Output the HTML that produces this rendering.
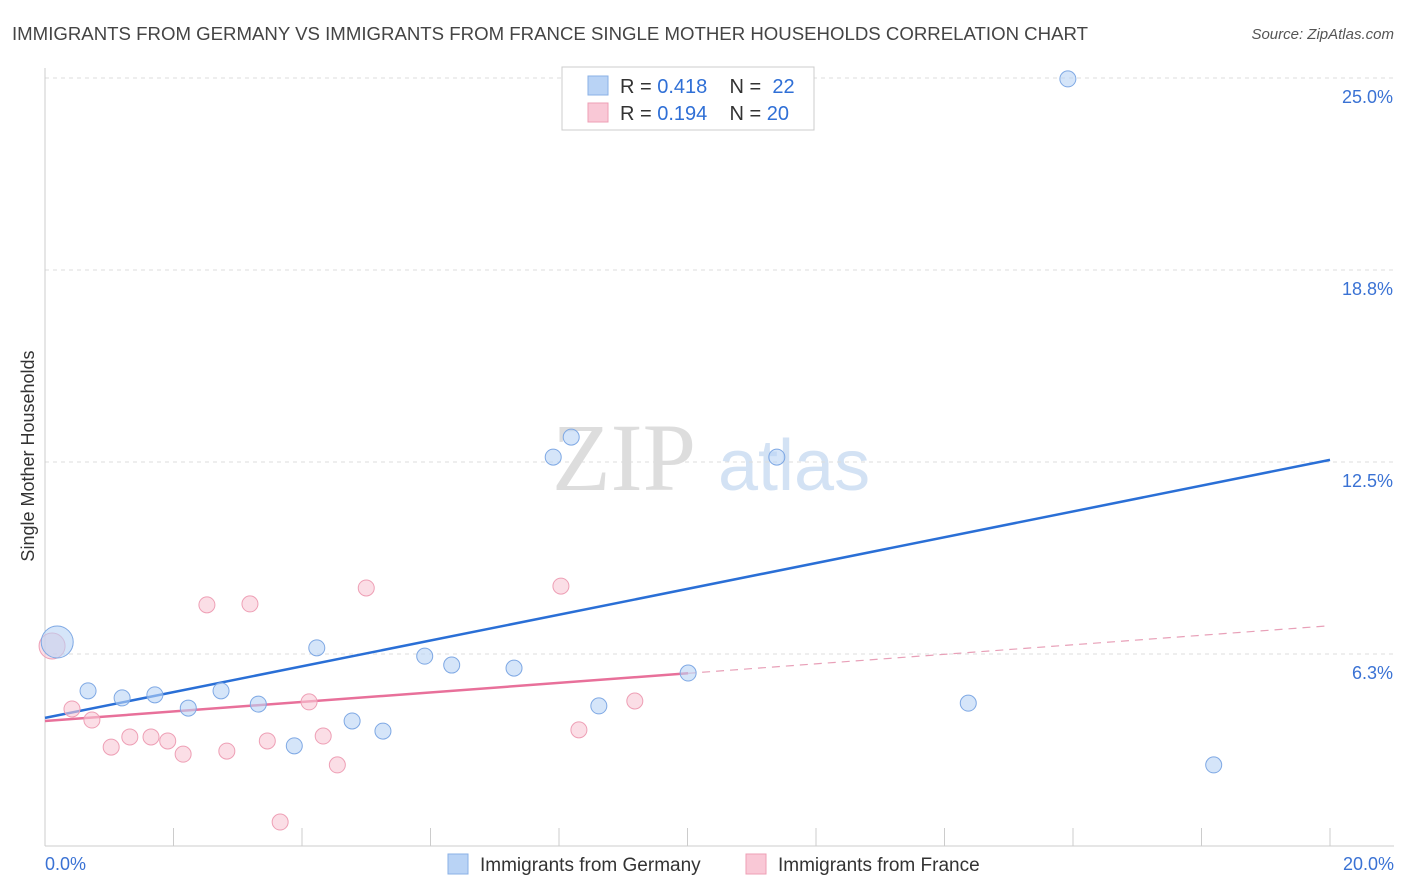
<!DOCTYPE html>
<html><head><meta charset="utf-8"><style>
body{margin:0;background:#fff;font-family:"Liberation Sans",sans-serif}
svg{display:block}
</style></head><body>
<svg id="chart" width="1406" height="892">
<text x="12" y="40" font-size="18" fill="#444" textLength="1076" lengthAdjust="spacingAndGlyphs">IMMIGRANTS FROM GERMANY VS IMMIGRANTS FROM FRANCE SINGLE MOTHER HOUSEHOLDS CORRELATION CHART</text>
<text x="1394" y="39" font-size="15" fill="#555" font-style="italic" text-anchor="end">Source: ZipAtlas.com</text>
<text x="34" y="456" font-size="18" fill="#333" text-anchor="middle" transform="rotate(-90 34 456)">Single Mother Households</text>
<g>
<text x="552" y="490" font-size="96" fill="#ddd" font-family="Liberation Serif,serif">ZIP</text>
<text x="718" y="490" font-size="72" fill="#d3e2f4">atlas</text>
</g>
<g id="grid"></g><g id="axes"></g><g id="lines"></g><g id="pts"></g>
<g>
<rect x="562" y="67" width="252" height="63" fill="#fff" stroke="#ccc"/>
<rect x="588" y="76" width="20" height="19" fill="#b9d3f5" stroke="#8ab0e6"/>
<rect x="588" y="103" width="20" height="19" fill="#f9c8d6" stroke="#ee9fb5"/>
<text x="620" y="93" font-size="20" fill="#333" xml:space="preserve">R = <tspan fill="#2f6fd6">0.418</tspan>    N =  <tspan fill="#2f6fd6">22</tspan></text>
<text x="620" y="120" font-size="20" fill="#333" xml:space="preserve">R = <tspan fill="#2f6fd6">0.194</tspan>    N = <tspan fill="#2f6fd6">20</tspan></text>
</g>
<g>
<rect x="448" y="854" width="20" height="20" fill="#b9d3f5" stroke="#8ab0e6"/>
<text x="480" y="871" font-size="19" fill="#333">Immigrants from Germany</text>
<rect x="746" y="854" width="20" height="20" fill="#f9c8d6" stroke="#ee9fb5"/>
<text x="778" y="871" font-size="19" fill="#333">Immigrants from France</text>
</g>
</svg>
<script>
const yTicks=[25.0,18.8,12.5,6.3];
const yTickVals=[25.0,18.75,12.5,6.25];
const xLabels=["0.0%","20.0%"];
const germanyX=[0.19,0.67,1.20,1.71,2.23,2.74,3.32,3.88,4.23,4.78,5.26,5.91,6.33,7.30,7.91,8.19,8.62,10.01,11.39,14.37,15.92,18.19];
const germanyY=[6.64,5.05,4.82,4.92,4.49,5.05,4.62,3.26,6.45,4.07,3.74,6.18,5.89,5.79,12.66,13.31,4.56,5.63,12.66,4.65,24.97,2.64];
const franceX=[0.11,0.42,0.73,1.03,1.32,1.65,1.91,2.15,2.52,2.83,3.19,3.46,3.66,4.11,4.33,4.55,5.00,8.03,8.31,9.18];
const franceY=[6.51,4.46,4.10,3.22,3.55,3.55,3.42,2.99,7.85,3.09,7.88,3.42,0.78,4.69,3.58,2.64,8.40,8.46,3.78,4.72];
const germanyLine=[4.17,12.57];
const franceLine=[4.07,7.17];
const franceSolidEnd=10.01;
const X=v=>45+v*64.25, Y=v=>846-v*30.72;
const NS="http://www.w3.org/2000/svg";
function mk(p,t,a){const e=document.createElementNS(NS,t);for(const k in a)e.setAttribute(k,a[k]);document.getElementById(p).appendChild(e);return e;}
yTicks.forEach((t,i)=>{const y=Y(yTickVals[i]);
 const l=mk('grid','line',{x1:45,x2:1394,y1:y,y2:y,stroke:'#ddd','stroke-dasharray':'4,4'});
 
 
 const tx=mk('grid','text',{x:1393,y:y+25,'font-size':18,fill:'#3a72d4','text-anchor':'end'});tx.textContent=t.toFixed(1)+'%';
 
 });
let a=mk('axes','line',{x1:45,x2:45,y1:68,y2:846,stroke:'#ccc'});


a=mk('axes','line',{x1:45,x2:1394,y1:846,y2:846,stroke:'#ccc'});


for(let i=1;i<=10;i++){const t=mk('axes','line',{x1:X(i*2),x2:X(i*2),y1:828,y2:846,stroke:'#ccc'});
 
 }
[[0,'start',45],[20,'end',1394]].forEach((d,i)=>{const t=mk('axes','text',{x:d[2],y:870,'font-size':18,fill:'#3a72d4','text-anchor':d[1]});t.textContent=xLabels[i];
 
 });
const fy=x=>franceLine[0]+(franceLine[1]-franceLine[0])*x/20;
let l=mk('lines','line',{x1:X(0),y1:Y(germanyLine[0]),x2:X(20),y2:Y(germanyLine[1]),stroke:'#2a6fd6','stroke-width':2.5});


l=mk('lines','line',{x1:X(0),y1:Y(fy(0)),x2:X(franceSolidEnd),y2:Y(fy(franceSolidEnd)),stroke:'#e8709a','stroke-width':2.5});


l=mk('lines','line',{x1:X(franceSolidEnd),y1:Y(fy(franceSolidEnd)),x2:X(20),y2:Y(fy(20)),stroke:'#e8a0b8','stroke-width':1.2,'stroke-dasharray':'8,6'});


franceX.forEach((x,i)=>{const c=mk('pts','circle',{cx:X(x),cy:Y(franceY[i]),r:i==0?13:8,fill:'rgba(249,200,214,0.6)',stroke:'#ee9fb5'});
 
 });
germanyX.forEach((x,i)=>{const c=mk('pts','circle',{cx:X(x),cy:Y(germanyY[i]),r:i==0?16:8,fill:'rgba(185,211,245,0.6)',stroke:'#7ea8e4'});
 
 });
</script>
</body></html>
